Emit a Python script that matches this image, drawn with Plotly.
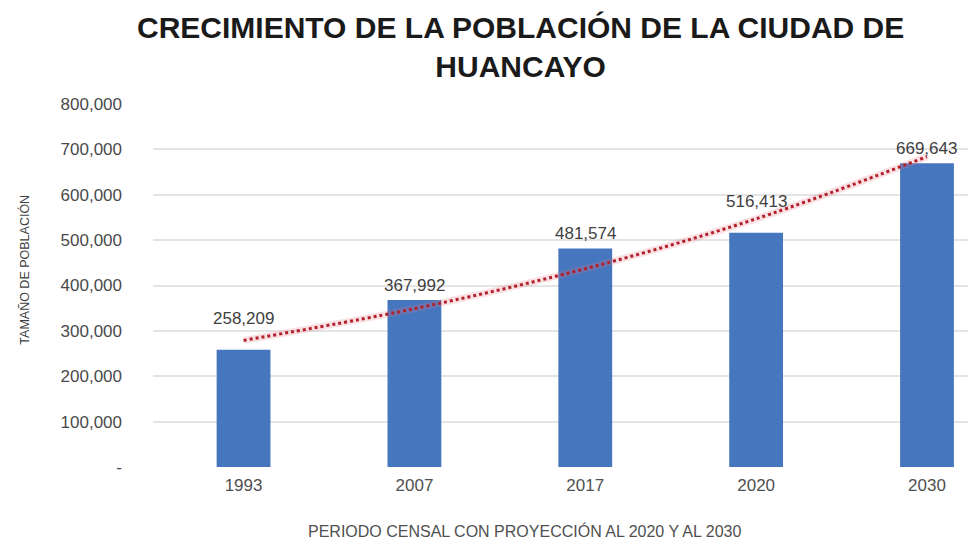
import plotly.graph_objects as go

# Census years and population of Huancayo (2020 and 2030 are projections)
years = ["1993", "2007", "2017", "2020", "2030"]
population = [258209, 367992, 481574, 516413, 669643]

# Exponential trend values at each census year
trend = [279000, 349000, 437000, 547000, 684000]

# Vertical offsets (px) for the value labels above each bar
label_shift = [20, 3, 3, 20, 3]

y_ticks = [0, 100000, 200000, 300000, 400000, 500000, 600000, 700000, 800000]
y_tick_text = ["-", "100,000", "200,000", "300,000", "400,000",
               "500,000", "600,000", "700,000", "800,000"]

x_pos = list(range(len(years)))
FONT = "Liberation Sans, Arial, sans-serif"

fig = go.Figure()

fig.add_trace(go.Bar(
    x=x_pos,
    y=population,
    width=0.315,
    marker=dict(color="#4676BE", line=dict(width=0)),
    hoverinfo="skip",
))

# soft halo under the dotted trend line
fig.add_trace(go.Scatter(
    x=x_pos, y=trend, mode="lines",
    line=dict(color="rgba(230,120,130,0.22)", width=7, shape="spline"),
    hoverinfo="skip",
))
fig.add_trace(go.Scatter(
    x=x_pos, y=trend, mode="lines",
    line=dict(color="#B3202C", width=3, dash="dot", shape="spline"),
    hoverinfo="skip",
))

for xi, val, sh in zip(x_pos, population, label_shift):
    fig.add_annotation(
        x=xi, y=val, xref="x", yref="y",
        text=f"{val:,}", showarrow=False,
        yanchor="bottom", yshift=sh,
        font=dict(family=FONT, size=17, color="#404040"),
    )

# chart title (two lines)
fig.add_annotation(
    x=0.451, y=1.158, xref="paper", yref="paper", yanchor="middle",
    xanchor="center", showarrow=False,
    text="<b>CRECIMIENTO DE LA POBLACIÓN DE LA CIUDAD DE<br>HUANCAYO</b>",
    font=dict(family=FONT, size=30, color="#1a1a1a"),
    align="center",
)
# y-axis title
fig.add_annotation(
    x=-0.169, y=0.543, xref="paper", yref="paper",
    showarrow=False, textangle=-90,
    text="TAMAÑO DE POBLACIÓN",
    font=dict(family=FONT, size=12.5, color="#404040"),
)
# x-axis title
fig.add_annotation(
    x=0.456, y=-0.176, xref="paper", yref="paper", yanchor="middle",
    showarrow=False,
    text="PERIODO CENSAL CON PROYECCIÓN AL 2020 Y AL 2030",
    font=dict(family=FONT, size=16, color="#505050"),
)

fig.update_layout(
    width=968, height=542,
    margin=dict(l=153, r=0, t=104, b=75),
    paper_bgcolor="white",
    plot_bgcolor="white",
    showlegend=False,
    bargap=0.7,
)
fig.update_xaxes(
    range=[-0.53, 4.24],
    tickmode="array", tickvals=x_pos, ticktext=years,
    showgrid=False, zeroline=False, showline=False,
    tickfont=dict(family=FONT, size=17, color="#505050"),
    ticklabelstandoff=6,
)
fig.update_yaxes(
    range=[0, 800000],
    tickmode="array", tickvals=y_ticks, ticktext=y_tick_text,
    showgrid=True, gridcolor="#e4e4e4", gridwidth=1.5,
    zeroline=False, showline=False,
    tickfont=dict(family=FONT, size=17, color="#4a4a4a"),
    ticklabelstandoff=30,
)

fig.write_html("out.html")
